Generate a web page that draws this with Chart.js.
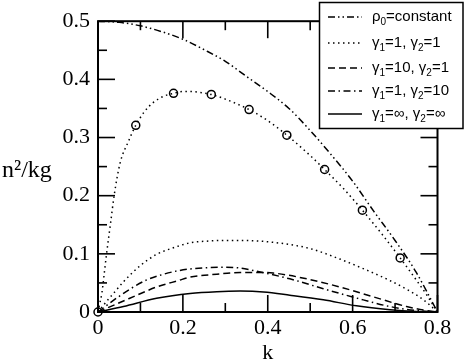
<!DOCTYPE html>
<html>
<head>
<meta charset="utf-8">
<script src="https://cdn.jsdelivr.net/npm/chart.js@4/dist/chart.umd.min.js"></script>
<style>
  html, body { margin: 0; padding: 0; background: #fff; }
  #wrap { width: 467px; height: 364px; position: relative; }
</style>
</head>
<body>
<div id="wrap"><canvas id="c" width="467" height="364"></canvas></div>
<script>
// ---- data ----
const kRho0 = [0, 0.05, 0.1, 0.15, 0.2, 0.25, 0.3, 0.35, 0.4, 0.45, 0.5, 0.55, 0.6, 0.65, 0.7, 0.75, 0.8];
const nRho0 = [0.5, 0.498, 0.492, 0.482, 0.469, 0.451, 0.431, 0.405, 0.379, 0.350, 0.312, 0.270, 0.225, 0.173, 0.123, 0.068, 0];

const kHigh = [0, 0.004, 0.009, 0.015, 0.02, 0.03, 0.038, 0.052, 0.0715, 0.089, 0.11, 0.13, 0.155, 0.178, 0.2, 0.22, 0.245, 0.267, 0.3, 0.356, 0.4, 0.445, 0.5, 0.534, 0.58, 0.623, 0.67, 0.712, 0.75, 0.774, 0.8];
const nHigh = [0, 0.014, 0.032, 0.068, 0.099, 0.155, 0.2, 0.256, 0.293, 0.321, 0.345, 0.360, 0.371, 0.376, 0.379, 0.379, 0.377, 0.374, 0.366, 0.348, 0.329, 0.304, 0.269, 0.245, 0.211, 0.175, 0.133, 0.093, 0.055, 0.030, 0];

const kCircle = [0, 0.089, 0.178, 0.267, 0.356, 0.445, 0.534, 0.623, 0.712];
const nCircle = [0, 0.321, 0.376, 0.374, 0.348, 0.304, 0.245, 0.175, 0.093];

const kG11 = [0, 0.02, 0.04, 0.06, 0.1, 0.138, 0.18, 0.217, 0.26, 0.3, 0.335, 0.38, 0.452, 0.5, 0.57, 0.63, 0.688, 0.73, 0.767, 0.8];
const nG11 = [0, 0.018, 0.035, 0.052, 0.080, 0.099, 0.111, 0.119, 0.122, 0.123, 0.123, 0.122, 0.116, 0.109, 0.091, 0.073, 0.054, 0.038, 0.021, 0];

const kG101 = [0, 0.06, 0.111, 0.138, 0.189, 0.217, 0.28, 0.335, 0.38, 0.413, 0.492, 0.57, 0.649, 0.727, 0.77, 0.8];
const nG101 = [0, 0.019, 0.035, 0.043, 0.054, 0.060, 0.065, 0.068, 0.068, 0.067, 0.057, 0.043, 0.026, 0.0094, 0.003, 0];

const kG110 = [0, 0.048, 0.111, 0.15, 0.189, 0.217, 0.25, 0.295, 0.33, 0.374, 0.452, 0.531, 0.609, 0.688, 0.75, 0.8];
const nG110 = [0, 0.026, 0.054, 0.064, 0.071, 0.074, 0.076, 0.077, 0.076, 0.070, 0.057, 0.040, 0.024, 0.0094, 0.0025, 0];

const kInf = [0, 0.06, 0.138, 0.217, 0.28, 0.335, 0.39, 0.452, 0.531, 0.609, 0.688, 0.75, 0.8];
const nInf = [0, 0.0094, 0.0236, 0.032, 0.035, 0.0359, 0.0345, 0.029, 0.021, 0.0106, 0.004, 0.001, 0];

const seriesLabels = ['ρ_0=constant', 'γ_1=1, γ_2=1', 'γ_1=10, γ_2=1', 'γ_1=1, γ_2=10', 'γ_1=∞, γ_2=∞'];
const xTicks = [0, 0.2, 0.4, 0.6, 0.8];
const yTicks = [0, 0.1, 0.2, 0.3, 0.4, 0.5];
const xTitle = 'k';
const yTitle = 'n²/kg';

// ---- helpers ----
const pts = (ks, ns) => ks.map((k, i) => ({ x: k, y: ns[i] }));
const lineDs = (label, ks, ns, dash, legend) => ({
  label, data: pts(ks, ns), showLine: true, borderColor: '#000', borderWidth: 1.5,
  borderDash: dash, pointRadius: 0, pointHoverRadius: 0, fill: false,
  cubicInterpolationMode: 'monotone', borderCapStyle: 'butt', inLegend: legend
});

const DASH_DOT_DOT = [7, 3, 1.5, 3, 1.5, 3];
const DOTTED = [1.5, 3.5];
const DASHED = [7, 4];
const DASH_DOT = [7, 3.5, 1.5, 3.5];

const datasets = [
  lineDs(seriesLabels[0], kRho0, nRho0, DASH_DOT_DOT, true),
  lineDs(seriesLabels[1], kG11, nG11, DOTTED, true),
  lineDs(seriesLabels[2], kG101, nG101, DASHED, true),
  lineDs(seriesLabels[3], kG110, nG110, DASH_DOT, true),
  lineDs(seriesLabels[4], kInf, nInf, [], true),
  lineDs('', kHigh, nHigh, DOTTED, false),
  { label: '', data: pts(kCircle, nCircle), showLine: false, pointRadius: 4, pointStyle: 'circle',
    pointBorderColor: '#000', pointBackgroundColor: 'rgba(0,0,0,0)', pointBorderWidth: 1.5,
    clip: false, inLegend: false }
];

const major = (arr) => arr;
const minor = (arr) => arr.slice(0, -1).map((v, i) => (v + arr[i + 1]) / 2);

function seg(ctx, x1, y1, x2, y2) { ctx.beginPath(); ctx.moveTo(x1, y1); ctx.lineTo(x2, y2); ctx.stroke(); }

const framePlugin = {
  id: 'frame',
  afterDatasetsDraw(chart) {
    const { ctx, chartArea: a, scales: { x, y } } = chart;
    ctx.save();
    ctx.strokeStyle = '#000';
    ctx.setLineDash([]);
    ctx.lineWidth = 1.6;
    const MJ = 17, MN = 9;
    major(xTicks).forEach(v => { const p = x.getPixelForValue(v); seg(ctx, p, a.bottom, p, a.bottom - MJ); seg(ctx, p, a.top, p, a.top + MJ); });
    minor(xTicks).forEach(v => { const p = x.getPixelForValue(v); seg(ctx, p, a.bottom, p, a.bottom - MN); seg(ctx, p, a.top, p, a.top + MN); });
    major(yTicks).forEach(v => { const p = y.getPixelForValue(v); seg(ctx, a.left, p, a.left + MJ, p); seg(ctx, a.right, p, a.right - MJ, p); });
    minor(yTicks).forEach(v => { const p = y.getPixelForValue(v); seg(ctx, a.left, p, a.left + MN, p); seg(ctx, a.right, p, a.right - MN, p); });
    ctx.lineWidth = 2;
    ctx.strokeRect(a.left, a.top, a.right - a.left, a.bottom - a.top);
    ctx.restore();
  },
  afterDraw(chart) {
    const { ctx } = chart;
    ctx.save();
    // y-axis title (horizontal)
    ctx.fillStyle = '#000';
    ctx.font = '24px "Liberation Serif", "Times New Roman", serif';
    ctx.textBaseline = 'alphabetic';
    ctx.textAlign = 'left';
    ctx.fillText(yTitle, 2, 177);

    // legend
    const bx = 319.5, by = 2.5, bw = 143.5, bh = 126;
    ctx.fillStyle = '#fff';
    ctx.fillRect(bx, by, bw, bh);
    ctx.strokeStyle = '#000';
    ctx.lineWidth = 1.5;
    ctx.setLineDash([]);
    ctx.strokeRect(bx, by, bw, bh);
    const rows = [17, 43, 68, 91, 114];
    const legendSets = chart.data.datasets.filter(d => d.inLegend);
    legendSets.forEach((d, i) => {
      const yy = rows[i];
      ctx.save();
      ctx.strokeStyle = '#000';
      ctx.lineWidth = d.borderWidth;
      ctx.setLineDash(d.borderDash || []);
      seg(ctx, 328, yy, 362, yy);
      ctx.restore();
      drawSubText(ctx, d.label, 372, yy);
    });
    ctx.restore();
  }
};

function drawSubText(ctx, s, x, y) {
  const main = '15px "Liberation Sans", Arial, sans-serif';
  const sub = '10px "Liberation Sans", Arial, sans-serif';
  ctx.fillStyle = '#000';
  ctx.textBaseline = 'middle';
  ctx.textAlign = 'left';
  let i = 0, cx = x;
  while (i < s.length) {
    if (s[i] === '_' && i + 1 < s.length) {
      ctx.font = sub;
      ctx.fillText(s[i + 1], cx, y + 5);
      cx += ctx.measureText(s[i + 1]).width;
      i += 2;
    } else {
      let j = i;
      while (j < s.length && s[j] !== '_') j++;
      const t = s.slice(i, j);
      ctx.font = main;
      ctx.fillText(t, cx, y);
      cx += ctx.measureText(t).width;
      i = j;
    }
  }
}

const tickFont = { family: '"Liberation Serif", "Times New Roman", serif', size: 22 };

new Chart(document.getElementById('c'), {
  type: 'scatter',
  data: { datasets },
  options: {
    responsive: false,
    animation: false,
    devicePixelRatio: 1,
    layout: { padding: { left: 0, top: 15, right: 29.5, bottom: 0 } },
    plugins: { legend: { display: false }, tooltip: { enabled: false } },
    scales: {
      x: {
        type: 'linear', min: 0, max: 0.8,
        afterBuildTicks: (s) => { s.ticks = xTicks.map(v => ({ value: v })); },
        afterFit: (s) => { s.height = 52; },
        grid: { display: false, drawTicks: false },
        border: { display: false },
        ticks: { color: '#000', font: tickFont, padding: 3, maxRotation: 0,
                 callback: (v) => String(+v.toFixed(2)) },
        title: { display: true, text: xTitle, color: '#000', font: tickFont, padding: { top: 0, bottom: -2 } }
      },
      y: {
        type: 'linear', min: 0, max: 0.5,
        afterBuildTicks: (s) => { s.ticks = yTicks.map(v => ({ value: v })); },
        afterFit: (s) => { s.width = 98; },
        grid: { display: false, drawTicks: false },
        border: { display: false },
        ticks: { color: '#000', font: tickFont, padding: 8,
                 callback: (v) => String(+v.toFixed(2)) }
      }
    }
  },
  plugins: [framePlugin]
});
</script>
</body>
</html>
